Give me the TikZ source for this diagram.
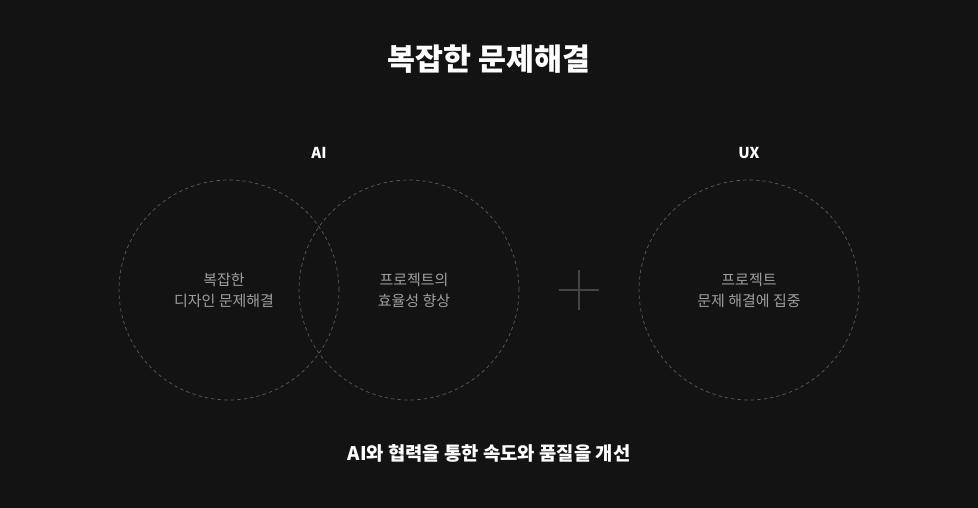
\documentclass[tikz,border=0pt]{standalone}
\usepackage{fontspec}
\setmainfont{Noto Sans CJK KR}
\definecolor{bg}{HTML}{131313}
\definecolor{ring}{HTML}{5A5A5A}
\definecolor{bodytxt}{HTML}{9E9E9E}
\definecolor{plusc}{HTML}{444444}
\begin{document}
\begin{tikzpicture}[x=1pt,y=-1pt,
  ringstyle/.style={circle,draw=ring,dashed,dash pattern=on 3.5pt off 3pt,line width=0.7pt,minimum size=220pt,inner sep=0pt},
  bodystyle/.style={text=bodytxt,font=\fontsize{15}{21}\selectfont,align=center},
  headstyle/.style={text=white,font=\fontsize{15}{18}\selectfont\bfseries},
  titlestyle/.style={text=white,font=\fontsize{30.4}{36}\selectfont\bfseries},
  footstyle/.style={text=white,font=\fontsize{18.8}{22}\selectfont\bfseries},
  plusstyle/.style={draw=plusc,line width=1.2pt}]
\fill[bg] (0,0) rectangle (978,508);
\useasboundingbox (0,0) rectangle (978,508);
\node[titlestyle] (title) at (489,59) {복잡한 문제해결};
\node[headstyle] (ai) at (319,153) {AI};
\node[headstyle] (ux) at (749,153) {UX};
\node[ringstyle] (c1) at (229,290) {};
\node[ringstyle] (c2) at (409,290) {};
\node[ringstyle] (c3) at (749,290) {};
\node[bodystyle] (t1) at ([xshift=-5pt]c1.center) {복잡한\\디자인 문제해결};
\node[bodystyle] (t2) at ([xshift=5pt]c2.center) {프로젝트의\\효율성 향상};
\node[bodystyle] (t3) at (c3) {프로젝트\\문제 해결에 집중};
\coordinate (pl) at (559,290);
\coordinate (pr) at (599,290);
\coordinate (pt) at (579,270);
\coordinate (pb) at (579,310);
\draw[plusstyle] (pl) -- (pr);
\draw[plusstyle] (pt) -- (pb);
\node[footstyle] (foot) at (489,453) {AI와 협력을 통한 속도와 품질을 개선};
\end{tikzpicture}
\end{document}
